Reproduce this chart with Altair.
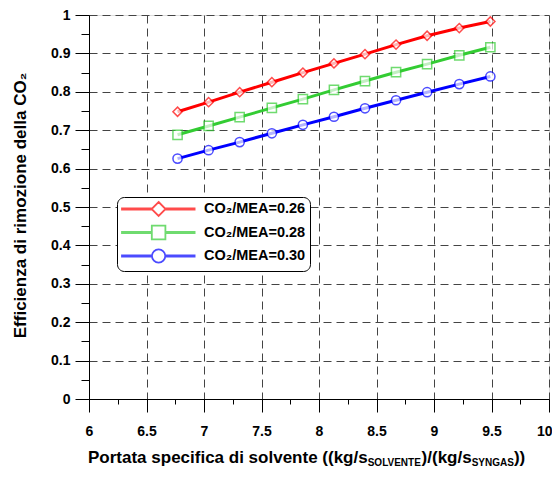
import altair as alt
import pandas as pd

# ---- data ----
portata = [6.77, 7.04, 7.31, 7.59, 7.86, 8.13, 8.40, 8.67, 8.94, 9.22, 9.49]
eff_026 = [0.748, 0.773, 0.799, 0.825, 0.850, 0.874, 0.898, 0.923, 0.946, 0.966, 0.983]
eff_028 = [0.688, 0.711, 0.734, 0.758, 0.781, 0.805, 0.828, 0.851, 0.872, 0.895, 0.916]
eff_030 = [0.626, 0.648, 0.669, 0.692, 0.714, 0.735, 0.757, 0.778, 0.799, 0.820, 0.840]
series_names = ["CO\u2082/MEA=0.26", "CO\u2082/MEA=0.28", "CO\u2082/MEA=0.30"]
series_colors = ["#ff0000", "#33cc33", "#0000ff"]
x_ticks = [round(6 + 0.25 * i, 2) for i in range(17)]
y_ticks = [round(0.05 * i, 2) for i in range(21)]
y_title = "Efficienza di rimozione della CO\u2082"
x_title_parts = ["Portata specifica di solvente ((kg/s", "SOLVENTE", ")/(kg/s", "SYNGAS", "))"]

rows = []
for name, vals in zip(series_names, [eff_026, eff_028, eff_030]):
    for xv, yv in zip(portata, vals):
        rows.append({"x": xv, "y": yv, "serie": name})
df = pd.DataFrame(rows)

FONT = "Liberation Sans"
W, H = 460, 384

xscale = alt.Scale(domain=[6, 10], nice=False, zero=False)
yscale = alt.Scale(domain=[0, 1], nice=False)
cscale = alt.Scale(domain=series_names, range=series_colors)

minor_x = "abs(datum.value*2 - round(datum.value*2)) > 0.001"
minor_y = "abs(datum.value*10 - round(datum.value*10)) > 0.001"
last_x = "datum.value > 9.9"

x_axis = alt.Axis(
    values=x_ticks, title=None,
    labelExpr=f"{minor_x} ? '' : format(datum.value, '~g')",
    labelFont=FONT, labelFontSize=14, labelFontWeight="bold", labelColor="black",
    labelPadding=12, labelOverlap=False, labelFlush=False,
    labelAlign={"condition": {"test": last_x, "value": "right"}, "value": "center"},
    labelOffset={"condition": {"test": last_x, "value": 3}, "value": 0},
    tickSize={"condition": {"test": minor_x, "value": 5}, "value": 13},
    tickColor="black", tickWidth=1,
    grid=True, gridDash=[8, 5], gridColor="#444444", gridWidth=1,
    gridOpacity={"condition": {"test": minor_x, "value": 0}, "value": 1},
    domainColor="black", domainWidth=1,
)
y_axis = alt.Axis(
    values=y_ticks, title=y_title,
    labelExpr=f"{minor_y} ? '' : format(datum.value, '~g')",
    labelFont=FONT, labelFontSize=14, labelFontWeight="bold", labelColor="black",
    labelPadding=5, labelOverlap=False, labelFlush=False,
    tickSize={"condition": {"test": minor_y, "value": 8}, "value": 14},
    tickColor="black", tickWidth=1,
    grid=True, gridDash=[8, 5], gridColor="#444444", gridWidth=1,
    gridOpacity={"condition": {"test": minor_y, "value": 0}, "value": 1},
    domainColor="black", domainWidth=1,
    titleFont=FONT, titleFontSize=17, titleFontWeight="bold", titleColor="black",
    titleX=-69, titleY=190, titleAngle=270, titleAlign="center", titleBaseline="middle",
)

X = alt.X("x:Q", scale=xscale, axis=x_axis)
Y = alt.Y("y:Q", scale=yscale, axis=y_axis)

base = alt.Chart(df)

lines = base.mark_line(strokeWidth=3).encode(
    x=X, y=Y,
    color=alt.Color("serie:N", scale=cscale, legend=None),
    detail="serie:N",
)

points = base.mark_point(filled=True, fill="white", strokeWidth=1.5, size=85).encode(
    x=X, y=Y,
    stroke=alt.Stroke("serie:N", scale=cscale, legend=None),
    shape=alt.Shape("serie:N", scale=alt.Scale(domain=series_names, range=["diamond", "square", "circle"]), legend=None),
)

# legend symbols: line with hollow marker (styling paths)
def seg(a, b):
    return f"M-1,-0.1H{a}V0.1H-1Z M{b},-0.1H9.37V0.1H{b}Z "

sym_diamond = seg(3.23, 5.23) + "M4.23,-1L5.23,0L4.23,1L3.23,0Z"
sym_square = seg(3.26, 5.2) + "M3.26,-0.97H5.2V0.97H3.26Z"
sym_circle = seg(3.28, 5.18) + "M3.28,0A0.95,0.95 0 1,0 5.18,0A0.95,0.95 0 1,0 3.28,0Z"

def make_legend():
    return alt.Legend(
        orient="none", legendX=28, legendY=182, title=None,
        labelFont=FONT, labelFontSize=14.5, labelFontWeight="bold", labelColor="black",
        labelOffset=67, padding=4, rowPadding=1.5,
        symbolSize=196, symbolStrokeWidth=1.8,
        strokeColor="black", cornerRadius=7, fillColor="white",
    )

legend_layer = base.transform_filter("false").mark_point(filled=False, strokeWidth=1.8).encode(
    x=X, y=Y,
    color=alt.Color("serie:N", scale=cscale, legend=make_legend()),
    shape=alt.Shape(
        "serie:N",
        scale=alt.Scale(domain=series_names, range=[sym_diamond, sym_square, sym_circle]),
        legend=make_legend(),
    ),
)

# x-axis title with subscripts, made of text pieces
main_size, sub_size = 17, 10
title_x = [-1, 278.7, 332.6, 382.7, 424.9]
title_sizes = [main_size, sub_size, main_size, sub_size, main_size]
title_y = [448, 451, 448, 451, 448]
title_layers = []
for t, px, fs, py in zip(x_title_parts, title_x, title_sizes, title_y):
    title_layers.append(
        alt.Chart(pd.DataFrame({"t": [t]})).mark_text(
            align="left", baseline="alphabetic", font=FONT, fontSize=fs,
            fontWeight="bold", color="black",
        ).encode(x=alt.value(px), y=alt.value(py), text="t:N")
    )

chart = alt.layer(lines, points, legend_layer, *title_layers).resolve_scale(
    color="independent", shape="independent", stroke="independent"
).properties(
    width=W, height=H,
    autosize=alt.AutoSizeParams(type="none"),
    padding={"left": 81, "top": 7, "right": 3, "bottom": 70},
).configure_view(stroke=None).configure(background="white")

chart.save("out.html", embed_options={"renderer": "svg", "actions": False})
